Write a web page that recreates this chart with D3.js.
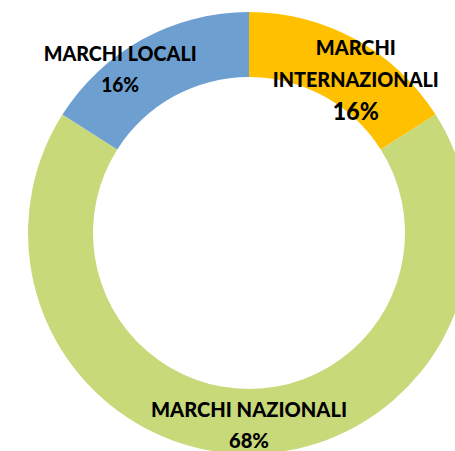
<!DOCTYPE html>
<html>
<head>
<meta charset="utf-8">
<script src="https://cdn.jsdelivr.net/npm/d3@7"></script>
<style>
  body { margin: 0; background: #fff; }
  text { font-family: Lato, "Open Sans", sans-serif; font-weight: 900; fill: #000; }
</style>
</head>
<body>
<script>
// dati
var categories = ["MARCHI INTERNAZIONALI", "MARCHI NAZIONALI", "MARCHI LOCALI"];
var values = [16, 68, 16];
var colors = ["#FFC000", "#C8D97A", "#6D9FD1"];
// righe delle etichette
var labelLines = [["MARCHI", "INTERNAZIONALI"], ["MARCHI NAZIONALI"], ["MARCHI LOCALI"]];

var width = 455, height = 451;
var cx = 249, cy = 233;
var outerR = 221, innerR = 156;

// layout etichette: spostamento dal centroide, interlinea, larghezze
var labelShift = [[16, -13], [0, -4.5], [-38, -7]];
var lineGap = [32, 31, 31];
var lineWidths = [[80, 166], [196], [153]];
var nameSize = [21, 21, 21];
var pctSize = [25, 21, 21];
var pctWidth = [46, 40, 38];

var svg = d3.select("body").append("svg")
    .attr("width", width)
    .attr("height", height);

var g = svg.append("g").attr("transform", "translate(" + cx + "," + cy + ")");

var pie = d3.pie().sort(null).value(function(d) { return d; });
var arc = d3.arc().innerRadius(innerR).outerRadius(outerR);

var arcs = pie(values);

g.selectAll("path")
    .data(arcs).enter()
    .append("path")
    .attr("d", arc)
    .attr("fill", function(d, i) { return colors[i]; });

// etichette
arcs.forEach(function(d, i) {
    var c = arc.centroid(d);
    var x = c[0] + labelShift[i][0];
    var y = c[1] + labelShift[i][1];
    var lines = labelLines[i];
    var lab = g.append("g").attr("transform", "translate(" + x + "," + y + ")");
    lines.forEach(function(t, j) {
        lab.append("text")
            .attr("text-anchor", "middle")
            .attr("y", j * lineGap[i])
            .attr("textLength", lineWidths[i][j])
            .attr("lengthAdjust", "spacingAndGlyphs")
            .style("font-size", nameSize[i] + "px")
            .text(t);
    });
    lab.append("text")
        .attr("text-anchor", "middle")
        .attr("y", lines.length * lineGap[i] + (pctSize[i] > 21 ? 1 : 0))
        .attr("textLength", pctWidth[i])
        .attr("lengthAdjust", "spacingAndGlyphs")
        .style("font-size", pctSize[i] + "px")
        .text(values[i] + "%");
});
</script>
</body>
</html>
